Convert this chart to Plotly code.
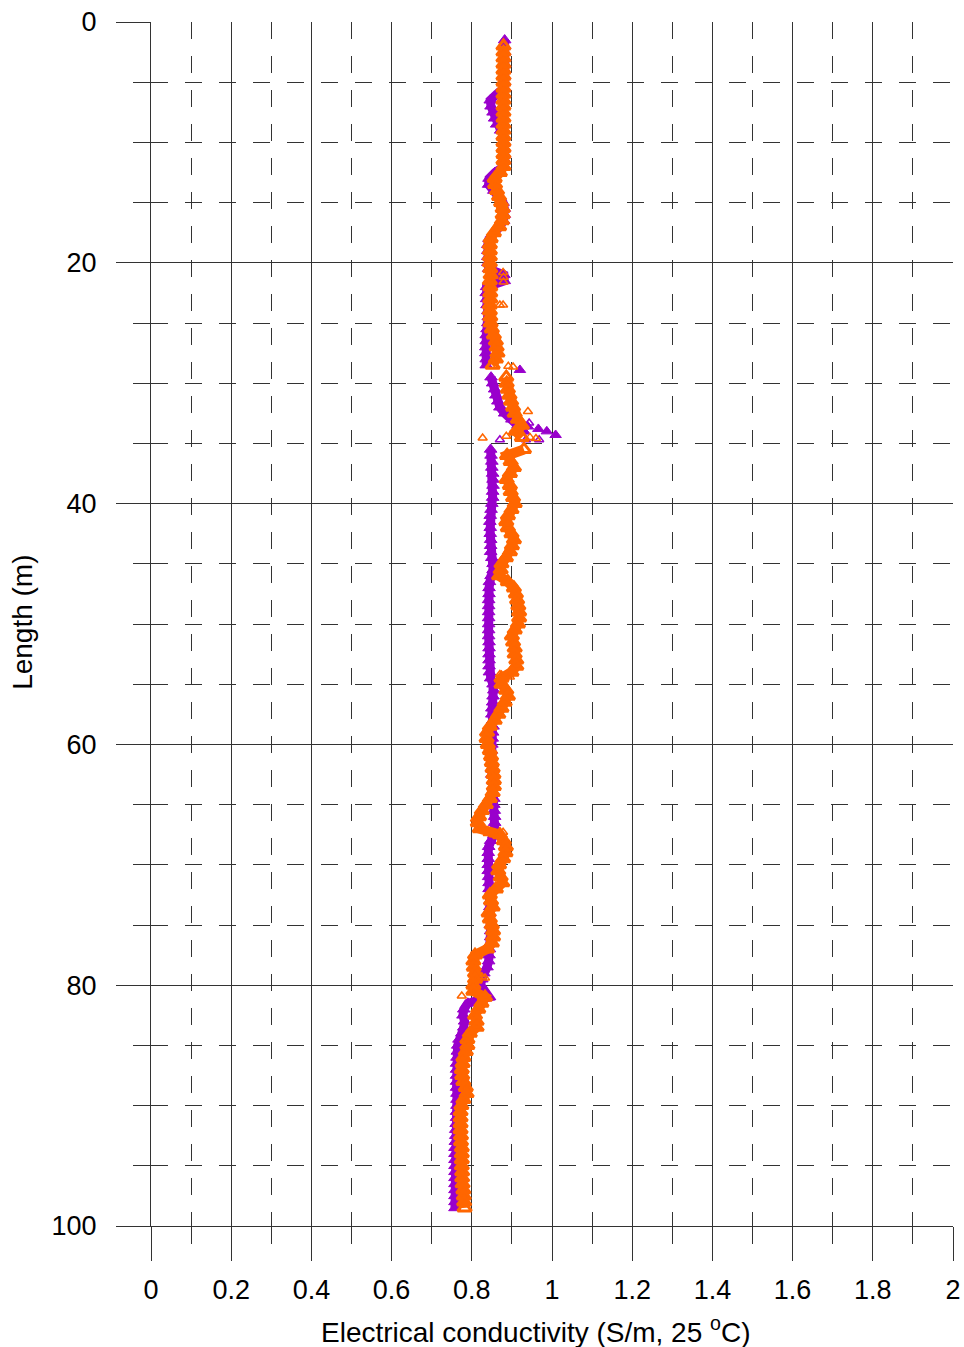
import plotly.graph_objects as go

# Conductivity logs sampled every 0.5 m along the borehole
DEPTH_START = 1.5
DEPTH_STEP = 0.5

purple_ec = [
    0.882, 0.882, 0.882, 0.882, 0.882, 0.882, 0.882, 0.882, 0.882, 0.862,
    0.846, 0.848, 0.853, 0.857, 0.862, 0.872, 0.880, 0.882, 0.882, 0.882,
    0.882, 0.880, 0.858, 0.843, 0.842, 0.855, 0.870, 0.878, 0.881, 0.881,
    0.879, 0.870, 0.855, 0.843, 0.840, 0.840, 0.840, 0.840, 0.842, 0.880,
    0.881, 0.837, 0.836, 0.837, 0.838, 0.840, 0.841, 0.840, 0.838, 0.836,
    0.836, 0.835, 0.835, 0.836, 0.836, None, 0.848, 0.852, 0.857, 0.860,
    0.865, 0.870, 0.882, 0.900, 0.915, 0.930, None, None, 0.847, 0.848,
    0.850, 0.850, 0.852, 0.853, 0.853, 0.852, 0.852, 0.850, 0.848, 0.846,
    0.845, 0.846, 0.846, 0.847, 0.847, 0.847, 0.850, 0.853, 0.853, 0.848,
    0.844, 0.843, 0.843, 0.842, 0.842, 0.842, 0.842, 0.842, 0.842, 0.842,
    0.843, 0.843, 0.843, 0.843, 0.843, 0.844, 0.847, 0.853, 0.855, 0.853,
    0.852, 0.850, 0.850, 0.852, 0.853, 0.852, 0.851, 0.850, 0.849, 0.849,
    0.849, 0.849, 0.850, 0.852, 0.853, 0.854, 0.855, 0.855, 0.856, 0.857,
    0.857, 0.857, 0.855, 0.847, 0.842, 0.841, 0.841, 0.841, 0.841, 0.842,
    0.843, 0.843, 0.844, 0.845, 0.845, 0.845, 0.845, 0.846, 0.847, 0.847,
    0.846, 0.844, 0.843, 0.842, 0.838, 0.830, 0.825, 0.822, 0.830, 0.843,
    0.790, 0.780, 0.778, 0.782, 0.780, 0.775, 0.768, 0.765, 0.764, 0.763,
    0.762, 0.762, 0.762, 0.762, 0.762, 0.763, 0.763, 0.763, 0.762, 0.762,
    0.761, 0.760, 0.760, 0.759, 0.758, 0.758, 0.758, 0.758, 0.758, 0.758,
    0.758, 0.758, 0.758, 0.758, 0.758,
]

orange_ec = [
    None, 0.879, 0.879, 0.879, 0.879, 0.879, 0.879, 0.879, 0.879, 0.879,
    0.879, 0.879, 0.879, 0.879, 0.879, 0.879, 0.879, 0.879, 0.879, 0.879,
    0.879, 0.879, 0.870, 0.857, 0.858, 0.863, 0.868, 0.873, 0.877, 0.877,
    0.875, 0.868, 0.855, 0.847, 0.845, 0.845, 0.845, 0.845, 0.846, 0.847,
    0.845, 0.846, 0.846, 0.846, 0.845, 0.845, 0.846, 0.847, 0.850, 0.855,
    0.860, 0.862, 0.864, 0.860, 0.852, None, 0.886, 0.887, 0.890, 0.894,
    0.898, 0.903, 0.907, 0.915, 0.925, 0.910, 0.925, None, 0.930, 0.888,
    0.897, 0.905, 0.895, 0.887, 0.895, 0.897, 0.903, 0.907, 0.899, 0.890,
    0.886, 0.890, 0.899, 0.905, 0.900, 0.895, 0.885, 0.874, 0.872, 0.868,
    0.890, 0.905, 0.910, 0.913, 0.916, 0.918, 0.918, 0.915, 0.907, 0.900,
    0.903, 0.907, 0.907, 0.911, 0.911, 0.899, 0.874, 0.874, 0.886, 0.890,
    0.882, 0.874, 0.866, 0.857, 0.845, 0.838, 0.837, 0.840, 0.845, 0.848,
    0.850, 0.852, 0.854, 0.855, 0.855, 0.852, 0.845, 0.835, 0.825, 0.818,
    0.815, 0.820, 0.870, 0.880, 0.885, 0.884, 0.878, 0.868, 0.866, 0.872,
    0.876, 0.860, 0.845, 0.848, 0.852, 0.842, 0.845, 0.850, 0.853, 0.853,
    0.850, 0.838, 0.808, 0.804, 0.805, 0.808, 0.808, 0.804, 0.804, 0.833,
    0.824, 0.816, 0.808, 0.812, 0.812, 0.795, 0.789, 0.789, 0.785, 0.779,
    0.777, 0.775, 0.776, 0.779, 0.785, 0.787, 0.779, 0.774, 0.772, 0.772,
    0.772, 0.772, 0.773, 0.773, 0.775, 0.775, 0.775, 0.775, 0.776, 0.776,
    0.777, 0.779, 0.780, 0.781, 0.782,
]

# Scattered readings off the main trend
purple_spike_depth = [28.9, 33.6, 33.8, 34.0, 34.3]
purple_spike_ec = [0.920, 0.940, 0.966, 0.987, 1.009]
purple_open_depth = [33.3, 34.7, 34.7, 34.7, 81.4]
purple_open_ec = [0.943, 0.870, 0.935, 0.968, 0.804]
orange_spike_depth = [20.8, 21.2, 21.6, 23.5, 23.5, 28.6, 28.6, 28.65, 32.35,
                      34.4, 34.55, 34.5, 34.6, 54.2, 54.3, 54.4,
                      66.2, 66.5, 66.8, 67.0, 67.4, 67.5, 67.5, 67.3,
                      79.3, 79.4, 80.9]
orange_spike_ec = [0.878, 0.879, 0.879, 0.870, 0.878, 0.848, 0.891, 0.903, 0.940,
                   0.886, 0.827, 0.945, 0.960, 0.870, 0.885, 0.895,
                   0.808, 0.810, 0.820, 0.830, 0.840, 0.855, 0.870, 0.878,
                   0.825, 0.833, 0.775]

depth = [DEPTH_START + DEPTH_STEP * i for i in range(len(purple_ec))]

PURPLE = "#9900CC"
ORANGE = "#FF6600"
GRID = "#333333"
FONT = "Liberation Sans, Arial, sans-serif"
TICK_SIZE = 27
TITLE_SIZE = 28

fig = go.Figure()

# Dense logs: thick trace with triangles so the samples merge into a band
fig.add_trace(go.Scatter(
    x=purple_ec, y=depth, mode="lines+markers",
    line=dict(color=PURPLE, width=9),
    marker=dict(symbol="triangle-up", size=11, color=PURPLE,
                line=dict(width=1, color=PURPLE)),
    showlegend=False,
))
fig.add_trace(go.Scatter(
    x=purple_spike_ec, y=purple_spike_depth, mode="markers",
    marker=dict(symbol="triangle-up", size=10, color=PURPLE,
                line=dict(width=1, color=PURPLE)),
    showlegend=False,
))
fig.add_trace(go.Scatter(
    x=purple_open_ec, y=purple_open_depth, mode="markers",
    marker=dict(symbol="triangle-up-open", size=8, color=PURPLE,
                line=dict(width=1.5, color=PURPLE)),
    showlegend=False,
))
fig.add_trace(go.Scatter(
    x=orange_ec, y=depth, mode="lines+markers",
    line=dict(color=ORANGE, width=10),
    marker=dict(symbol="triangle-up-open", size=12, color=ORANGE,
                line=dict(width=3, color=ORANGE)),
    showlegend=False,
))
fig.add_trace(go.Scatter(
    x=orange_spike_ec, y=orange_spike_depth, mode="markers",
    marker=dict(symbol="triangle-up-open", size=8, color=ORANGE,
                line=dict(width=1.5, color=ORANGE)),
    showlegend=False,
))

axis_common = dict(
    automargin=False,
    showline=True, linecolor=GRID, linewidth=1,
    ticks="outside", ticklen=34, tickwidth=1, tickcolor=GRID,
    showgrid=True, gridcolor=GRID, gridwidth=1,
    zeroline=False,
    tickfont=dict(family=FONT, size=TICK_SIZE, color="#000"),
)

fig.update_xaxes(
    range=[0, 2], tick0=0, dtick=0.2,
    ticklabelstandoff=6,
    minor=dict(dtick=0.1, ticks="outside", ticklen=17, tickwidth=1,
               tickcolor=GRID, showgrid=True, gridcolor=GRID, gridwidth=1,
               griddash="17px,17px"),
    **axis_common,
)
fig.update_yaxes(
    range=[100, 0], tick0=0, dtick=20,
    ticklabelstandoff=14,
    minor=dict(dtick=5, ticks="outside", ticklen=17, tickwidth=1,
               tickcolor=GRID, showgrid=True, gridcolor=GRID, gridwidth=1,
               griddash="17px,17px"),
    **axis_common,
)

fig.add_annotation(
    text="Electrical conductivity (S/m, 25 <sup>o</sup>C)",
    xref="paper", yref="paper", x=0.48, y=-0.0866,
    xanchor="center", yanchor="middle", showarrow=False,
    font=dict(family=FONT, size=TITLE_SIZE, color="#000"),
)
fig.add_annotation(
    text="Length (m)", textangle=-90,
    xref="paper", yref="paper", x=-0.16, y=0.5015,
    xanchor="center", yanchor="middle", showarrow=False,
    font=dict(family=FONT, size=TITLE_SIZE, color="#000"),
)

fig.update_layout(
    width=964, height=1347,
    margin=dict(l=151, r=11, t=22, b=121),
    paper_bgcolor="white", plot_bgcolor="white",
    showlegend=False,
)

fig.write_html("out.html")
